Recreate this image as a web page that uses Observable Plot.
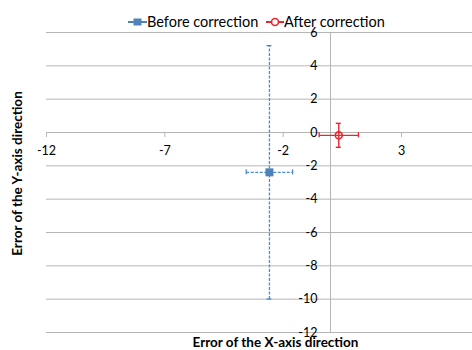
<!DOCTYPE html>
<html><head><meta charset="utf-8">
<script src="https://cdn.jsdelivr.net/npm/d3@7"></script>
<script src="https://cdn.jsdelivr.net/npm/@observablehq/plot@0.6"></script>
<style>
body{margin:0;background:#fff;}
#wrap{position:relative;width:472px;height:350px;font-family:Lato,sans-serif;}
.leg{position:absolute;top:14px;font-size:14.5px;color:#000;display:flex;align-items:center;white-space:nowrap;line-height:16px}
.leg svg{display:block}
</style></head><body><div id="wrap"></div>
<script>
const seriesNames = ["Before correction", "After correction"];
const seriesColors = ["#4f81bd", "#e8262d"];
const barColors = ["#4a8ccf", "#e8262d"];
const pointX = [-2.58, 0.35];
const pointY = [-2.39, -0.17];
const errXHalf = [0.98, 0.83];
const errYHalf = [7.6, 0.72];
const xTicks = [-12, -7, -2, 3];
const yTicks = [-12, -10, -8, -6, -4, -2, 0, 2, 4, 6];
const xTitle = "Error of the X-axis direction";
const yTitle = "Error of the Y-axis direction";

const rows = seriesNames.map((name, i) => ({name, x: pointX[i], y: pointY[i], ex: errXHalf[i], ey: errYHalf[i]}));
const before = rows.filter(d => d.name === seriesNames[0]);
const after = rows.filter(d => d.name === seriesNames[1]);
const grid = "#b5b5b5";
const font = "Lato, sans-serif";

function bars(data, color, dash, w) {
  return [
    Plot.link(data, {x1: "x", x2: "x", y1: d => d.y - d.ey, y2: d => d.y + d.ey, stroke: color, strokeWidth: w, strokeDasharray: dash}),
    Plot.link(data, {x1: d => d.x - d.ex, x2: d => d.x + d.ex, y1: "y", y2: "y", stroke: color, strokeWidth: w, strokeDasharray: dash}),
    Plot.ruleY(data, {y: d => d.y + d.ey, x1: "x", x2: "x", insetLeft: -2.5, insetRight: -2.5, stroke: color, strokeWidth: w}),
    Plot.ruleY(data, {y: d => d.y - d.ey, x1: "x", x2: "x", insetLeft: -2.5, insetRight: -2.5, stroke: color, strokeWidth: w}),
    Plot.ruleX(data, {x: d => d.x + d.ex, y1: "y", y2: "y", insetTop: -2.5, insetBottom: -2.5, stroke: color, strokeWidth: w}),
    Plot.ruleX(data, {x: d => d.x - d.ex, y1: "y", y2: "y", insetTop: -2.5, insetBottom: -2.5, stroke: color, strokeWidth: w})
  ];
}

const chart = Plot.plot({
  width: 472, height: 350,
  marginLeft: 46, marginRight: 0, marginTop: 32, marginBottom: 18,
  style: {fontFamily: font, background: "#fff", overflow: "visible"},
  x: {domain: [-12, 6], axis: null},
  y: {domain: [-12, 6], axis: null},
  marks: [
    Plot.ruleY(yTicks, {stroke: grid, strokeWidth: 1}),
    Plot.ruleX([0], {stroke: grid, strokeWidth: 1}),
    Plot.ruleX(xTicks, {x: d => d, y1: 0, y2: 0, insetBottom: -5, stroke: grid}),
    Plot.text(yTicks, {x: 0, y: d => d, text: d => String(d), textAnchor: "end", dx: -13, fontSize: 12.5, fill: "#000"}),
    Plot.text(xTicks, {x: d => d, y: 0, text: d => String(d), dy: 18, fontSize: 12.5, fill: "#000"}),
    ...bars(before, barColors[0], "3,1.5", 1.3),
    ...bars(after, barColors[1], null, 1.4),
    Plot.dot(before, {x: "x", y: "y", symbol: "square", r: 4.5, fill: seriesColors[0], stroke: "none"}),
    Plot.dot(after, {x: "x", y: "y", symbol: "circle", r: 3.5, fill: "none", stroke: seriesColors[1], strokeWidth: 1.6}),
    Plot.text([xTitle], {frameAnchor: "bottom", textAnchor: "middle", dx: 16, dy: 14, text: d => d, fontWeight: "bold", fontSize: 13.5, fill: "#000"}),
    Plot.text([yTitle], {frameAnchor: "left", textAnchor: "middle", lineAnchor: "middle", dx: -29, dy: -9, rotate: -90, text: d => d, fontWeight: "bold", fontSize: 13.5, fill: "#000"})
  ]
});
const wrap = document.getElementById("wrap");
wrap.appendChild(chart);

function legendItem(i, left, swatch) {
  const el = document.createElement("div");
  el.className = "leg";
  el.style.left = left + "px";
  el.innerHTML = swatch + `<span>${seriesNames[i]}</span>`;
  wrap.appendChild(el);
}
legendItem(0, 128, `<svg width="19" height="12"><line x1="0" y1="6" x2="19" y2="6" stroke="${seriesColors[0]}" stroke-width="2"/><rect x="5.5" y="2.5" width="8" height="7" fill="${seriesColors[0]}"/></svg>`);
legendItem(1, 266, `<svg width="18" height="12"><line x1="0" y1="6" x2="18" y2="6" stroke="${seriesColors[1]}" stroke-width="2"/><circle cx="9" cy="6" r="3.5" fill="#fff" stroke="${seriesColors[1]}" stroke-width="1.6"/></svg>`);
</script></body></html>
